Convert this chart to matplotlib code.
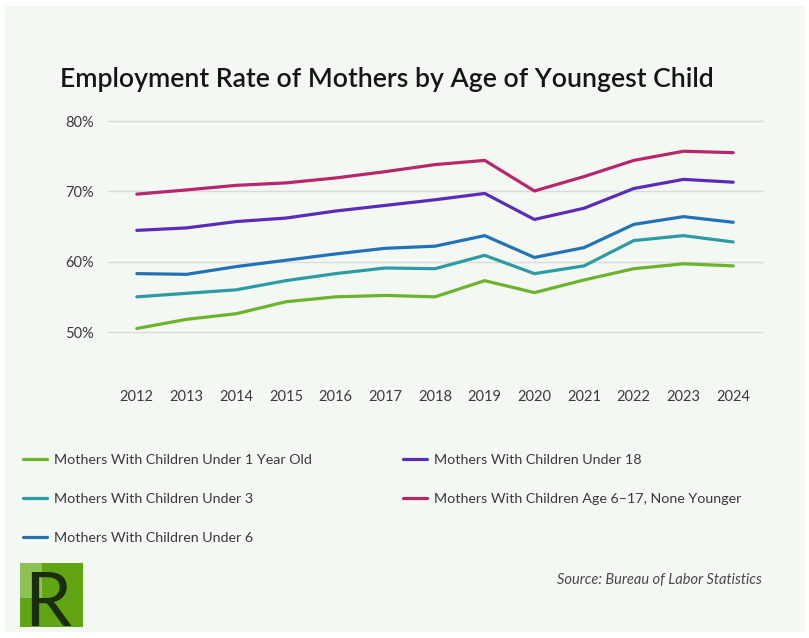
import numpy as np
import matplotlib.pyplot as plt
from matplotlib.patches import Rectangle
from matplotlib.ticker import FuncFormatter

plt.rcParams['font.family'] = ['Lato', 'DejaVu Sans']

years = list(range(2012, 2025))

under_1 = [50.5, 51.8, 52.6, 54.3, 55.0, 55.2, 55.0, 57.3, 55.6, 57.4, 59.0, 59.7, 59.4]
under_3 = [55.0, 55.5, 56.0, 57.3, 58.3, 59.1, 59.0, 60.9, 58.3, 59.4, 63.0, 63.7, 62.8]
under_6 = [58.3, 58.2, 59.3, 60.2, 61.1, 61.9, 62.2, 63.7, 60.6, 62.0, 65.3, 66.4, 65.6]
under_18 = [64.45, 64.8, 65.7, 66.2, 67.2, 68.0, 68.8, 69.7, 66.0, 67.6, 70.4, 71.7, 71.3]
age_6_17 = [69.6, 70.2, 70.85, 71.2, 71.9, 72.8, 73.8, 74.4, 70.05, 72.1, 74.4, 75.7, 75.5]

labels = ['Mothers With Children Under 1 Year Old',
          'Mothers With Children Under 3',
          'Mothers With Children Under 6',
          'Mothers With Children Under 18',
          'Mothers With Children Age 6\u201317, None Younger']
colors = ['#6cb32e', '#2c9ba4', '#2472b6', '#5a2cb8', '#b8266e']
series = [under_1, under_3, under_6, under_18, age_6_17]

W, H = 809, 638
fig = plt.figure(figsize=(W / 100, H / 100), dpi=100)
fig.patch.set_facecolor('white')

# pale panel behind everything
fig.patches.append(Rectangle((5 / W, 6 / H), 800 / W, 626 / H, transform=fig.transFigure,
                             facecolor='#f3f8f2', edgecolor='none', zorder=-5))

ax = fig.add_axes([108 / W, 1 - 332 / H, 654 / W, 211 / H])
ax.set_facecolor('none')

for vals, lab, col in zip(series, labels, colors):
    ax.plot(years, vals, color=col, lw=2.3, label=lab, solid_capstyle='round')

ax.set_xlim(2011.42, 2024.58)
ax.set_ylim(50, 80)
ax.set_yticks([50, 60, 70, 80])
ax.yaxis.set_major_formatter(FuncFormatter(lambda v, p: f'{v:.0f}%'))
ax.set_xticks(years)
ax.grid(axis='y', color='#d9dcd9', lw=1)
for gl in ax.get_ygridlines():
    gl.set_clip_on(False)
ax.set_axisbelow(True)
for s in ax.spines.values():
    s.set_visible(False)
ax.tick_params(axis='both', length=0, labelsize=10.5, colors='#3a3a3a')
ax.tick_params(axis='y', pad=10)
ax.tick_params(axis='x', pad=42)

fig.text(60 / W, 1 - 79 / H, 'Employment Rate of Mothers by Age of Youngest Child',
         fontsize=19.2, fontweight='semibold', color='#151515', va='center', ha='left')

fig.legend(loc='upper left', bbox_to_anchor=(10 / W, 1 - 441 / H), ncol=2,
           frameon=False, fontsize=10.3, handlelength=1.7, handletextpad=0.45,
           columnspacing=6.4, labelspacing=1.9, labelcolor='#3a3a3a')

fig.text(762 / W, 1 - 580 / H, 'Source: Bureau of Labor Statistics', fontsize=10.5,
         style='italic', color='#4a4a4a', ha='right', va='center')

# logo block
fig.patches.append(Rectangle((20 / W, 1 - 627 / H), 63 / W, 64 / H, transform=fig.transFigure,
                             facecolor='#62a514', edgecolor='none', zorder=1))
fig.patches.append(Rectangle((20 / W, 1 - 598 / H), 22 / W, 35 / H, transform=fig.transFigure,
                             facecolor='#8cc252', edgecolor='none', zorder=1))
fig.text(24 / W, 1 - 626 / H, 'R', fontsize=54, color='#1b2d0c', ha='left', va='baseline',
         zorder=2)

fig.savefig('out.png', dpi=100, facecolor=fig.get_facecolor())
